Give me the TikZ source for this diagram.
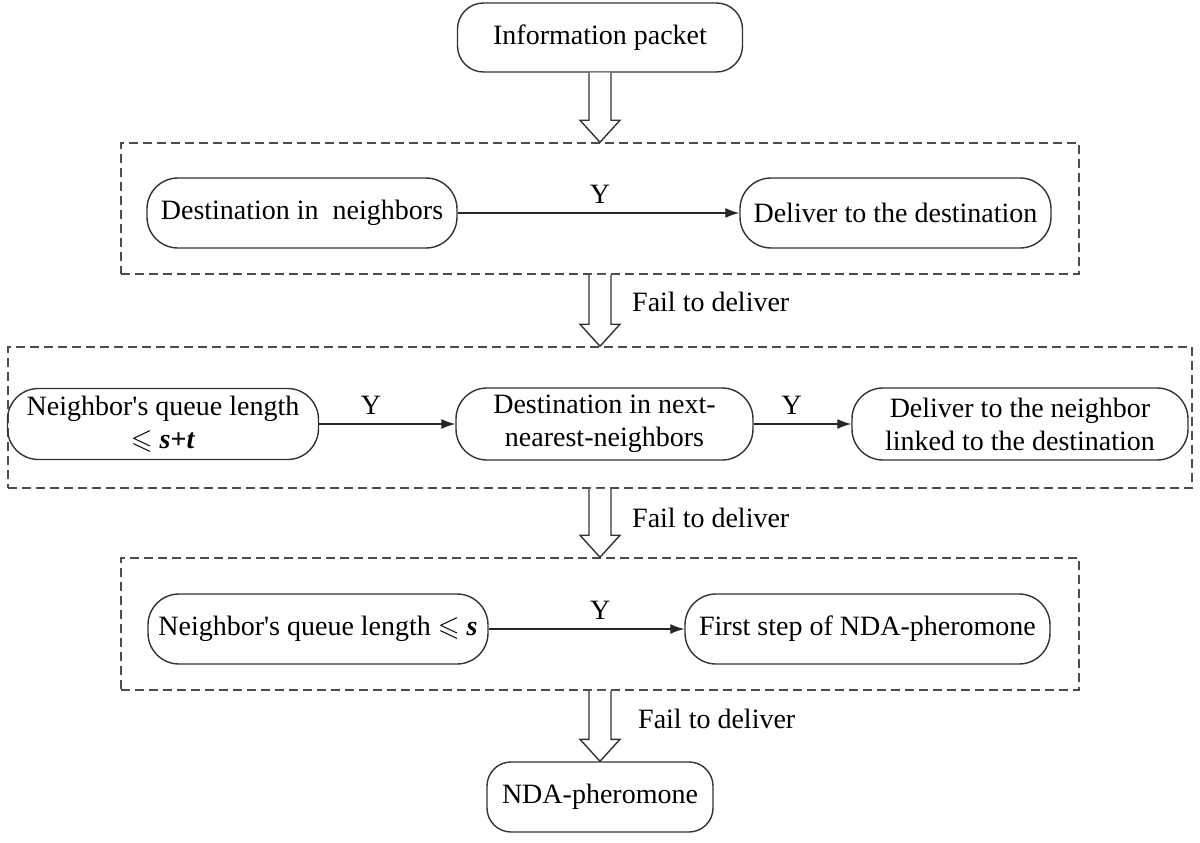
\documentclass[tikz,border=0pt]{standalone}
\usepackage{amssymb}
\usepackage{fontspec}
\setmainfont{Liberation Serif}
\usetikzlibrary{arrows.meta,calc}
\newcommand{\hollowarr}[2]{%
  \draw[hollow] ($(#1.south)+(-11,0)$) -- ($(#2.north)+(-11,-22)$) -- ($(#2.north)+(-20,-22)$) -- (#2.north) -- ($(#2.north)+(20,-22)$) -- ($(#2.north)+(11,-22)$) -- ($(#1.south)+(11,0)$);}
\begin{document}
\begin{tikzpicture}[x=1pt,y=-1pt,
  every node/.style={font=\fontsize{28}{33}\selectfont},
  proc/.style={draw=black!80, line width=1.4pt, rounded corners=31pt, minimum height=70pt, inner sep=0pt, align=center},
  group/.style={draw=black!70, line width=1.5pt, dash pattern=on 9pt off 5pt, inner sep=0pt},
  flow/.style={draw=black!85, line width=1.3pt, -{Latex[length=14pt,width=10pt]}},
  ylabel/.style={above=9pt, inner sep=0pt},
  hollow/.style={draw=black!80, line width=1.4pt, fill=white, line join=miter},
  faillabel/.style={anchor=west, inner sep=0pt}]
\useasboundingbox (0,0) rectangle (1200,843);

% dashed groups
\node[group, minimum width=958pt, minimum height=131pt] (grp1) at (600,208.5) {};
\node[group, minimum width=1184pt, minimum height=141pt] (grp2) at (600,417.5) {};
\node[group, minimum width=958pt, minimum height=132pt] (grp3) at (600,624) {};

% process nodes
\node[proc, minimum width=285pt, minimum height=69pt, rounded corners=26pt] (info) at (600,37.5) {Information packet};
\node[proc, minimum width=310pt] (dn) at (302,213) {Destination in\ \ neighbors};
\node[proc, minimum width=311pt] (dd) at (895.5,213) {Deliver to the destination};
\node[proc, minimum width=311pt, minimum height=71pt] (nq) at (163,424) {Neighbor\textquotesingle s queue length\\ $\leqslant$ \textbf{\textit{s}+\textit{t}}};
\node[proc, minimum width=297pt, minimum height=72pt] (dnn) at (604.5,424) {Destination in next-\\nearest-neighbors};
\node[proc, minimum width=336pt, minimum height=72pt] (dnl) at (1020,424) {Deliver to the neighbor\\linked to the destination};
\node[proc, minimum width=340pt] (nqs) at (318,629) {Neighbor\textquotesingle s queue length $\leqslant$ \textbf{\textit{s}}};
\node[proc, minimum width=365pt] (fs) at (867.5,629) {First step of NDA-pheromone};
\node[proc, minimum width=226pt, rounded corners=24pt] (nda) at (600,797) {NDA-pheromone};

% flow arrows
\draw[flow] (dn) -- node[ylabel, pos=0.505] (y1) {Y} (dd);
\draw[flow] (nq) -- node[ylabel, pos=0.38] (y2) {Y} (dnn);
\draw[flow] (dnn) -- node[ylabel, pos=0.39] (y3) {Y} (dnl);
\draw[flow] (nqs) -- node[ylabel, pos=0.57] (y4) {Y} (fs);

% hollow arrows
\hollowarr{info}{grp1}
\hollowarr{grp1}{grp2}
\hollowarr{grp2}{grp3}
\hollowarr{grp3}{nda}

% labels
\node[faillabel] (f1) at ($(grp1.south)+(32,27)$) {Fail to deliver};
\node[faillabel] (f2) at ($(grp2.south)+(32,29)$) {Fail to deliver};
\node[faillabel] (f3) at ($(grp3.south)+(38,28)$) {Fail to deliver};
\end{tikzpicture}
\end{document}
